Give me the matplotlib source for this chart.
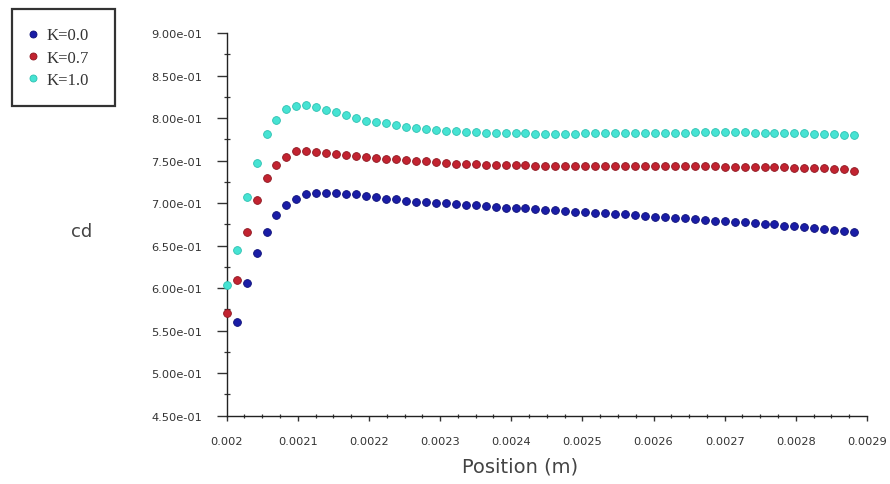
import numpy as np
import matplotlib
matplotlib.use("Agg")
import matplotlib.pyplot as plt
from matplotlib.ticker import MultipleLocator, FixedLocator

# ---- data ----
position = [0.002000, 0.002014, 0.002028, 0.002042, 0.002056, 0.002070, 0.002084, 0.002098,
            0.002112, 0.002126, 0.002140, 0.002154, 0.002168, 0.002182, 0.002196, 0.002210,
            0.002224, 0.002238, 0.002252, 0.002266, 0.002280, 0.002294, 0.002308, 0.002322,
            0.002336, 0.002350, 0.002364, 0.002378, 0.002392, 0.002406, 0.002420, 0.002434,
            0.002448, 0.002462, 0.002476, 0.002490, 0.002504, 0.002518, 0.002532, 0.002546,
            0.002560, 0.002574, 0.002588, 0.002602, 0.002616, 0.002630, 0.002644, 0.002658,
            0.002672, 0.002686, 0.002700, 0.002714, 0.002728, 0.002742, 0.002756, 0.002770,
            0.002784, 0.002798, 0.002812, 0.002826, 0.002840, 0.002854, 0.002868, 0.002882]

# K=0.0 starts at the second position
cd_k00 = [0.5597, 0.6059, 0.6412, 0.6659, 0.6859, 0.6977, 0.7047, 0.7106, 0.7118, 0.7120, 0.7118,
          0.7110, 0.7104, 0.7079, 0.7068, 0.7052, 0.7044, 0.7027, 0.7016, 0.7009, 0.6997,
          0.6995, 0.6989, 0.6980, 0.6975, 0.6962, 0.6957, 0.6945, 0.6940, 0.6936, 0.6930, 0.6922,
          0.6918, 0.6905, 0.6898, 0.6892, 0.6888, 0.6882, 0.6873, 0.6868, 0.6859, 0.6851, 0.6840,
          0.6835, 0.6830, 0.6824, 0.6812, 0.6804, 0.6792, 0.6785, 0.6780, 0.6773, 0.6765, 0.6755,
          0.6750, 0.6733, 0.6726, 0.6715, 0.6706, 0.6700, 0.6686, 0.6675, 0.6656]

cd_k07 = [0.5707, 0.6098, 0.6659, 0.7036, 0.7295, 0.7451, 0.7545, 0.7612, 0.7616, 0.7604, 0.7592,
          0.7577, 0.7565, 0.7553, 0.7538, 0.7530, 0.7522, 0.7518, 0.7510, 0.7500, 0.7489, 0.7480,
          0.7467, 0.7462, 0.7458, 0.7455, 0.7450, 0.7447, 0.7445, 0.7443, 0.7442, 0.7441, 0.7440,
          0.7440, 0.7439, 0.7439, 0.7438, 0.7438, 0.7438, 0.7437, 0.7437, 0.7437, 0.7436, 0.7436,
          0.7436, 0.7435, 0.7435, 0.7434, 0.7432, 0.7430, 0.7428, 0.7426, 0.7424, 0.7422, 0.7421,
          0.7420, 0.7419, 0.7418, 0.7417, 0.7416, 0.7412, 0.7405, 0.7395, 0.7380]

cd_k10 = [0.6036, 0.6448, 0.7075, 0.7471, 0.7812, 0.7980, 0.8106, 0.8145, 0.8153, 0.8133, 0.8094,
          0.8074, 0.8039, 0.8000, 0.7968, 0.7950, 0.7938, 0.7918, 0.7898, 0.7883, 0.7871, 0.7859,
          0.7851, 0.7847, 0.7839, 0.7832, 0.7826, 0.7824, 0.7822, 0.7820, 0.7818, 0.7816, 0.7815,
          0.7815, 0.7816, 0.7817, 0.7818, 0.7819, 0.7820, 0.7821, 0.7822, 0.7823, 0.7824, 0.7825,
          0.7826, 0.7828, 0.7829, 0.7830, 0.7830, 0.7831, 0.7831, 0.7830, 0.7830, 0.7829, 0.7828,
          0.7827, 0.7825, 0.7823, 0.7820, 0.7816, 0.7812, 0.7808, 0.7800, 0.7797]

series_labels = ["K=0.0", "K=0.7", "K=1.0"]

x_ticks = [0.0020, 0.0021, 0.0022, 0.0023, 0.0024, 0.0025, 0.0026, 0.0027, 0.0028, 0.0029]
x_tick_labels = ["0.002", "0.0021", "0.0022", "0.0023", "0.0024", "0.0025",
                 "0.0026", "0.0027", "0.0028", "0.0029"]
y_ticks = [0.45, 0.50, 0.55, 0.60, 0.65, 0.70, 0.75, 0.80, 0.85, 0.90]
y_tick_labels = ["4.50e-01", "5.00e-01", "5.50e-01", "6.00e-01", "6.50e-01",
                 "7.00e-01", "7.50e-01", "8.00e-01", "8.50e-01", "9.00e-01"]

# ---- figure ----
fig = plt.figure(figsize=(8.9, 4.85), dpi=100)
ax = fig.add_axes([0.2547, 0.1410, 0.7194, 0.7889])

colors = ["#1a1da6", "#c22330", "#46e3d3"]
edges = ["#0e1078", "#8c1620", "#2cc0b0"]
xs = [position[1:], position, position]
ys = [cd_k00, cd_k07, cd_k10]
for xv, yv, c, ec, lab in zip(xs, ys, colors, edges, series_labels):
    ax.plot(xv, yv, linestyle="none", marker="o", ms=5.6, mfc=c, mec=ec, mew=0.6,
            label=lab, clip_on=False, zorder=5)

ax.set_xlim(0.0020, 0.0029)
ax.set_ylim(0.45, 0.90)
ax.xaxis.set_major_locator(FixedLocator(x_ticks))
ax.set_xticklabels(x_tick_labels)
ax.xaxis.set_minor_locator(MultipleLocator(0.000025))
ax.yaxis.set_major_locator(FixedLocator(y_ticks))
ax.set_yticklabels(y_tick_labels)
ax.yaxis.set_minor_locator(MultipleLocator(0.025))

for s in ["top", "right"]:
    ax.spines[s].set_visible(False)
for s in ["left", "bottom"]:
    ax.spines[s].set_color("#222222")
    ax.spines[s].set_linewidth(1.0)

ax.tick_params(axis="y", which="major", direction="out", length=7.2, width=1.0,
               color="#333333", pad=10.5, labelsize=8.2, labelcolor="#333333")
ax.tick_params(axis="y", which="minor", direction="inout", length=4, width=0.9, color="#333333")
ax.tick_params(axis="x", which="major", direction="out", length=3.5, width=1.0,
               color="#333333", pad=11.5, labelsize=8.2, labelcolor="#333333")
ax.tick_params(axis="x", which="minor", direction="inout", length=3, width=0.9, color="#333333")

fig.text(520 / 890, 1 - 467 / 485, "Position (m)", ha="center", va="center",
         fontsize=14, color="#444444")
fig.text(82 / 890, 1 - 232 / 485, "cd", ha="center", va="center",
         fontsize=13, color="#444444")

leg = ax.legend(loc="upper left",
                bbox_to_anchor=(12 / 890, 1 - 107 / 485, 103 / 890, 97 / 485),
                bbox_transform=fig.transFigure, mode="expand", borderaxespad=0,
                prop={"family": "Liberation Serif", "size": 12},
                frameon=True, fancybox=False, borderpad=1.1, handlelength=0.35,
                handletextpad=0.6, labelspacing=0.38, markerscale=0.9)
leg.get_frame().set_edgecolor("black")
leg.get_frame().set_linewidth(1.6)
for t in leg.get_texts():
    t.set_color("#333333")

fig.savefig("out.png", dpi=100, facecolor="white")
